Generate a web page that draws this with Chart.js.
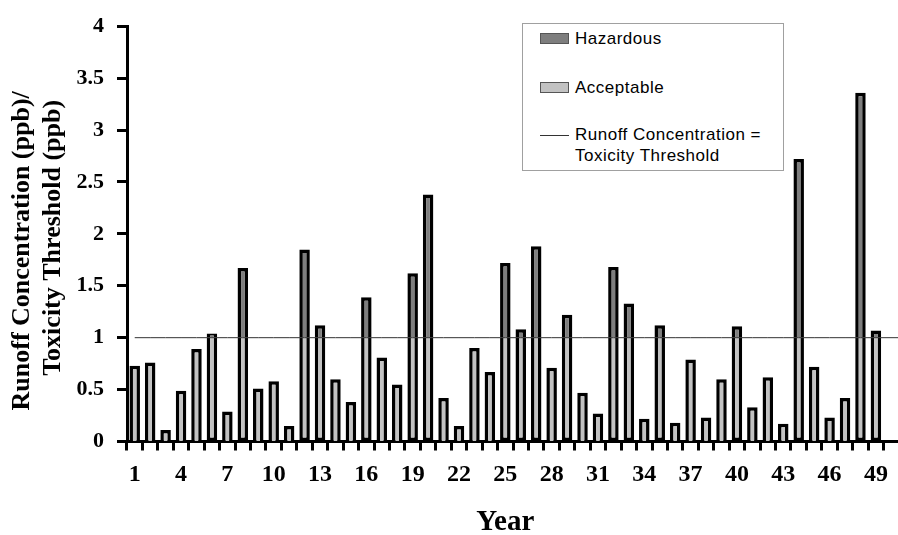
<!DOCTYPE html>
<html>
<head>
<meta charset="utf-8">
<script src="https://cdn.jsdelivr.net/npm/chart.js@4/dist/chart.umd.min.js"></script>
<style>
  html, body { margin: 0; padding: 0; background: #fff; }
  #wrap { position: relative; width: 898px; height: 535px; }
  #legend {
    position: absolute; left: 522px; top: 23px; width: 260px; height: 146px;
    border: 1px solid #a0a0a0; background: #fff;
    font-family: "Liberation Sans", Arial, sans-serif; font-size: 17px;
    letter-spacing: 0.5px; color: #000;
  }
  .sw { position: absolute; left: 17px; width: 27px; height: 9px; border: 1px solid #555; }
  .ln { position: absolute; left: 17px; width: 29px; height: 0; border-top: 1px solid #333; }
  .tx { position: absolute; left: 52px; line-height: 21px; white-space: nowrap; }
</style>
</head>
<body>
<div id="wrap">
  <canvas id="chart"></canvas>
  <div id="legend"></div>
</div>
<script>
// Years on the x axis
const years = [1, 2, 3, 4, 5, 6, 7, 8, 9, 10, 11, 12, 13, 14, 15, 16, 17, 18, 19, 20,
  21, 22, 23, 24, 25, 26, 27, 28, 29, 30, 31, 32, 33, 34, 35, 36, 37, 38, 39, 40,
  41, 42, 43, 44, 45, 46, 47, 48, 49];

// Ratio of runoff concentration to toxicity threshold, per year
const ratio = [0.73, 0.76, 0.11, 0.49, 0.89, 1.04, 0.29, 1.67, 0.51, 0.58,
  0.15, 1.85, 1.12, 0.60, 0.38, 1.39, 0.81, 0.55, 1.62, 2.38,
  0.42, 0.15, 0.90, 0.67, 1.72, 1.08, 1.88, 0.71, 1.22, 0.47,
  0.27, 1.68, 1.33, 0.22, 1.12, 0.18, 0.79, 0.23, 0.60, 1.11,
  0.33, 0.62, 0.17, 2.72, 0.72, 0.23, 0.42, 3.36, 1.07];

// Concentration equal to the threshold
const threshold = 1;

// Y axis range and step
const yMin = 0, yMax = 4, yStep = 0.5;

const seriesNames = ['Hazardous', 'Acceptable', 'Runoff Concentration =\nToxicity Threshold'];
const yTitleLines = ['Runoff Concentration (ppb)/', 'Toxicity Threshold (ppb)'];
const hazardColor = '#7e7e7e';
const acceptColor = '#c2c2c2';
const lineColor = '#333333';
const serif = '"Liberation Serif", "Times New Roman", serif';

// Split each year's bar at the threshold
const acceptable = ratio.map(v => Math.min(v, threshold));
const hazardous = ratio.map(v => (v > threshold ? v - threshold : null));
const thresholdLine = years.map(() => threshold);

// Carries the x axis baseline and the threshold line out to the right edge
const edgeExtend = {
  id: 'edgeExtend',
  afterDatasetsDraw(chart) {
    const { ctx, chartArea, scales } = chart;
    ctx.save();
    ctx.strokeStyle = '#000';
    ctx.lineWidth = 3;
    ctx.beginPath();
    ctx.moveTo(chartArea.right - 1, chartArea.bottom);
    ctx.lineTo(chart.width, chartArea.bottom);
    ctx.stroke();
    const yT = scales.y.getPixelForValue(threshold);
    ctx.strokeStyle = lineColor;
    ctx.lineWidth = 1;
    ctx.beginPath();
    ctx.moveTo(scales.x.getPixelForValue(years.length - 1), yT);
    ctx.lineTo(chart.width, yT);
    ctx.stroke();
    ctx.restore();
  }
};

// Two-line rotated title for the value axis
const yAxisTitle = {
  id: 'yAxisTitle',
  afterDraw(chart) {
    const { ctx, chartArea } = chart;
    const mid = (chartArea.top + chartArea.bottom) / 2;
    const placement = [{ x: 22, dy: 17 }, { x: 53, dy: 4 }];
    ctx.save();
    ctx.font = 'bold 26px ' + serif;
    ctx.fillStyle = '#000';
    ctx.textAlign = 'center';
    ctx.textBaseline = 'middle';
    yTitleLines.forEach((line, i) => {
      ctx.save();
      ctx.translate(placement[i].x, mid + placement[i].dy);
      ctx.rotate(-Math.PI / 2);
      ctx.fillText(line, 0, 0);
      ctx.restore();
    });
    ctx.restore();
  }
};

new Chart(document.getElementById('chart'), {
  type: 'bar',
  data: {
    labels: years.map(String),
    datasets: [
      {
        type: 'line',
        label: seriesNames[2],
        data: thresholdLine,
        stack: 'line',
        borderColor: lineColor,
        borderWidth: 1,
        pointRadius: 0,
        fill: false,
        order: 0
      },
      {
        label: seriesNames[1],
        data: acceptable,
        stack: 'bars',
        backgroundColor: acceptColor,
        borderColor: '#000',
        borderWidth: 3.5,
        borderSkipped: ctx => (ratio[ctx.dataIndex] > threshold ? 'end' : 'start'),
        barPercentage: 0.68,
        categoryPercentage: 1,
        order: 1
      },
      {
        label: seriesNames[0],
        data: hazardous,
        stack: 'bars',
        backgroundColor: hazardColor,
        borderColor: '#000',
        borderWidth: 3.5,
        borderSkipped: 'start',
        barPercentage: 0.68,
        categoryPercentage: 1,
        order: 1
      }
    ]
  },
  options: {
    responsive: true,
    maintainAspectRatio: false,
    animation: false,
    layout: { padding: { top: 20.5, right: 9, bottom: 0, left: 0 } },
    plugins: { legend: { display: false }, tooltip: { enabled: false } },
    scales: {
      x: {
        stacked: true,
        offset: true,
        grid: { offset: true, drawOnChartArea: false, drawTicks: true, tickLength: 9, tickWidth: 3, tickColor: '#000' },
        border: { display: true, color: '#000', width: 3 },
        ticks: {
          autoSkip: false, maxRotation: 0, minRotation: 0, padding: 10, color: '#000',
          font: { family: serif, size: 24, weight: 'bold' },
          callback: (v, i) => (i % 3 === 0 ? String(years[i]) : '')
        },
        title: {
          display: true, text: 'Year', color: '#000', padding: 0,
          font: { family: serif, size: 29, weight: 'bold', lineHeight: '24px' }
        },
        afterFit: s => { s.height = 93.5; }
      },
      y: {
        stacked: true,
        min: yMin,
        max: yMax,
        grid: { drawOnChartArea: false, drawTicks: true, tickLength: 10, tickWidth: 3, tickColor: '#000' },
        border: { display: true, color: '#000', width: 3 },
        ticks: {
          stepSize: yStep, padding: 13, color: '#000',
          font: { family: serif, size: 22, weight: 'bold' },
          callback: v => String(v)
        },
        afterFit: s => { s.width = 127; }
      }
    }
  },
  plugins: [edgeExtend, yAxisTitle]
});

// Legend box inside the plot
const legend = document.getElementById('legend');
const items = [
  { kind: 'sw', color: hazardColor, top: 9, text: seriesNames[0], textTop: 4 },
  { kind: 'sw', color: acceptColor, top: 58, text: seriesNames[1], textTop: 53 },
  { kind: 'ln', color: lineColor, top: 111, text: seriesNames[2], textTop: 100 }
];
items.forEach(it => {
  const mark = document.createElement('div');
  mark.className = it.kind;
  mark.style.top = it.top + 'px';
  if (it.kind === 'sw') mark.style.background = it.color;
  else mark.style.borderTopColor = it.color;
  legend.appendChild(mark);
  const t = document.createElement('div');
  t.className = 'tx';
  t.style.top = it.textTop + 'px';
  t.innerHTML = it.text.split('\n').join('<br>');
  legend.appendChild(t);
});
</script>
</body>
</html>
